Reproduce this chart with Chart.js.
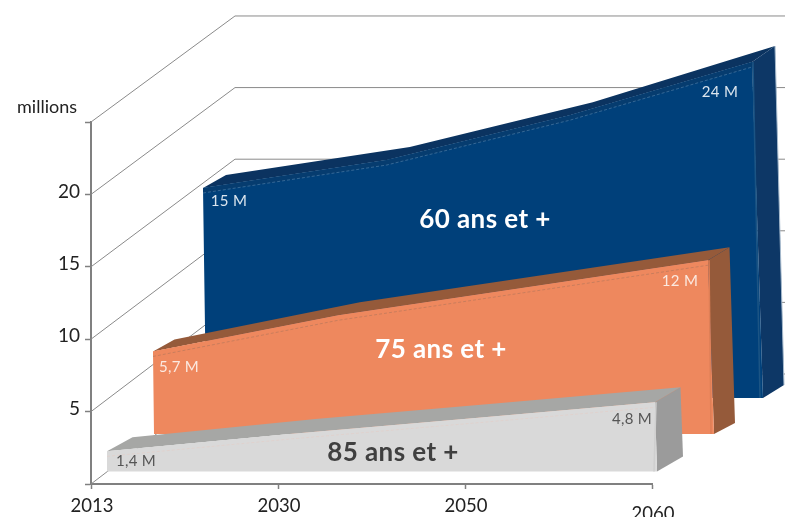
<!DOCTYPE html>
<html lang="fr">
<head>
<meta charset="utf-8">
<title>Projection de la population âgée</title>
<style>
  html, body { margin: 0; padding: 0; background: #fff; overflow: hidden; }
  canvas { display: block; }
</style>
<script src="https://cdn.jsdelivr.net/npm/chart.js@4"></script>
</head>
<body>
<canvas id="c" width="785" height="517"></canvas>
<script>
// Population figures, in millions
const years = ['2013', '2030', '2050', '2060'];
const ans60 = [15, 17, 20.2, 24];
const ans75 = [5.7, 8.2, 10.1, 12];
const ans85 = [1.4, 2.6, 3.7, 4.8];
const wallValues = [0, 5, 10, 15, 20, 25];

const FONT = 'Lato, "Open Sans", sans-serif';
const PX_X = 187;     // pixels per category on the horizontal scale
const PX_Y = 14.48;   // pixels per million on the vertical scale
const ux = px => px / PX_X;
const uy = px => px / PX_Y;

// Oblique slab geometry for each age group, in scale units
const slab60 = {
  left: ux(115), right: ux(672), base: uy(86), k: 14 / 14.48,
  leanL: ux(-0.2), leanR: ux(-0.458),
  backX: ux(23), backTop: [uy(13), uy(13), uy(13), uy(16)],
  footX: ux(21), footY: uy(13),
  front: '#00407a', band: '#063c6f', top: '#0b3360', side: '#0d3766',
  dash: '#4a7aa3', edge: '#1b5484', rim: '#a5b9cc'
};
const slab75 = {
  left: ux(63), right: ux(623), base: uy(50), k: 1,
  leanL: ux(-0.175), leanR: ux(-0.5),
  backX: ux(21.5), backTop: [uy(12), uy(13), uy(13), uy(13)],
  footX: ux(21), footY: uy(11),
  front: '#ee885e', band: '#ee885e', top: '#955a3a', side: '#955a3a',
  dash: '#b9795b', edge: '#de7f57', rim: null
};
const slab85 = {
  left: ux(16), right: ux(566), base: uy(12.5), k: 0.995,
  leanL: 0, leanR: ux(-0.42),
  backX: ux(25.5), backTop: [uy(14), uy(15), uy(15), uy(15)],
  footX: ux(26), footY: uy(15),
  front: '#d9d9d9', band: '#d9d9d9', top: '#a6a7a5', side: '#9b9b9b',
  dash: '#e2cfc8', edge: '#cfcfcf', rim: null
};

// Maps a category index and a value onto the front face of a slab
function onFace(g, i, value) {
  const t = i / 3;
  return {
    x: g.left + (g.right - g.left) * t + (g.leanL + (g.leanR - g.leanL) * t) * value,
    y: g.base + value * g.k
  };
}
const onBack = (g, i, value) => {
  const p = onFace(g, i, value);
  return { x: p.x + g.backX, y: p.y + g.backTop[i] };
};

function polygon(points, color) {
  return { data: points, isFace: true, faceColor: color, showLine: false, pointRadius: 0, clip: false };
}
function stroke(points, color, width, dash) {
  return {
    data: points, showLine: true, pointRadius: 0, clip: false,
    borderColor: color, borderWidth: width, borderDash: dash || [], tension: 0
  };
}

// All faces and edges of one slab, back to front
function slabParts(g, values) {
  const idx = [0, 1, 2, 3];
  const frontTop = idx.map(i => onFace(g, i, values[i]));
  const backTop = idx.map(i => onBack(g, i, values[i]));
  const footL = onFace(g, 0, 0);
  const footR = onFace(g, 3, 0);
  const footBack = { x: footR.x + g.footX, y: footR.y + g.footY };
  const inset = uy(5);
  const insetTop = idx.map(i => ({ x: frontTop[i].x, y: frontTop[i].y - inset }));
  const parts = [
    polygon([...frontTop, ...backTop.slice().reverse()], g.top),
    polygon([frontTop[3], backTop[3], footBack, footR], g.side),
    polygon([...frontTop, footR, footL], g.front),
    polygon([...frontTop, ...insetTop.slice().reverse()], g.band),
    stroke(insetTop, g.dash, 0.7, [3, 2]),
    stroke([{ x: frontTop[3].x + ux(1), y: frontTop[3].y }, { x: footR.x - ux(3), y: footR.y }], g.edge, 1.5)
  ];
  if (g.rim) parts.push(stroke([backTop[3], footBack], g.rim, 1));
  return parts;
}

// Receding lines of the side wall and the horizontal lines of the back wall
const WALL_X = ux(144);
const wallY = v => v * 0.989 + uy(110);
const wallLines = wallValues.map(v => stroke(
  [{ x: 0, y: v }, { x: WALL_X, y: wallY(v) }, { x: ux(694), y: wallY(v) }], '#8a8a8a', 1
));

const layers = [
  ...wallLines,
  ...slabParts(slab60, ans60),
  ...slabParts(slab75, ans75),
  ...slabParts(slab85, ans85)
];

// Captions, anchored in scale units
const at = (px, py) => ({ x: ux(px - 91), y: uy(484 - py) });
const groupFont = `700 26px ${FONT}`;
const valueFont = `400 15px ${FONT}`;
const captions = [
  { text: 'millions', ...at(47, 107), font: `400 18px ${FONT}`, color: '#222', spacing: '0px' },
  { text: '60 ans et +', ...at(485, 220), font: groupFont, color: '#fff', spacing: '0.4px' },
  { text: '75 ans et +', ...at(441, 350), font: groupFont, color: '#fff', spacing: '0.4px' },
  { text: '85 ans et +', ...at(393, 453), font: groupFont, color: '#404040', spacing: '0.4px' },
  { text: '15 M', ...at(229, 201), font: valueFont, color: '#dbe5ee', spacing: '0.3px' },
  { text: '24 M', ...at(720, 92), font: valueFont, color: '#dbe5ee', spacing: '0.3px' },
  { text: '5,7 M', ...at(179, 367), font: valueFont, color: '#fbe9e0', spacing: '0.3px' },
  { text: '12 M', ...at(680, 281), font: valueFont, color: '#fbe9e0', spacing: '0.3px' },
  { text: '1,4 M', ...at(136, 461), font: valueFont, color: '#555', spacing: '0.3px' },
  { text: '4,8 M', ...at(632, 419), font: valueFont, color: '#555', spacing: '0.3px' }
];

const facePlugin = {
  id: 'faces',
  beforeDatasetDraw(chart, args) {
    const ds = chart.data.datasets[args.index];
    if (!ds.isFace) return;
    const pts = args.meta.data;
    const ctx = chart.ctx;
    ctx.save();
    ctx.beginPath();
    pts.forEach((p, i) => (i ? ctx.lineTo(p.x, p.y) : ctx.moveTo(p.x, p.y)));
    ctx.closePath();
    ctx.fillStyle = ds.faceColor;
    ctx.fill();
    ctx.restore();
  }
};

const captionPlugin = {
  id: 'captions',
  afterDatasetsDraw(chart) {
    const { ctx, scales } = chart;
    ctx.save();
    ctx.textAlign = 'center';
    ctx.textBaseline = 'middle';
    captions.forEach(c => {
      ctx.font = c.font;
      ctx.letterSpacing = c.spacing;
      ctx.fillStyle = c.color;
      ctx.fillText(c.text, scales.x.getPixelForValue(c.x), scales.y.getPixelForValue(c.y));
    });
    ctx.restore();
  }
};

new Chart(document.getElementById('c'), {
  type: 'scatter',
  // the first dataset is painted last
  data: { datasets: layers.slice().reverse() },
  plugins: [facePlugin, captionPlugin],
  options: {
    responsive: false,
    animation: false,
    layout: { padding: { top: 122, right: 133, left: 0, bottom: 0 } },
    plugins: { legend: { display: false }, tooltip: { enabled: false }, title: { display: false } },
    scales: {
      x: {
        type: 'linear', min: 0, max: 3,
        afterFit(s) { s.height = 33; },
        border: { color: '#808080', width: 2 },
        grid: { drawOnChartArea: false, drawTicks: true, tickLength: 5, tickColor: '#808080', tickWidth: 1.5 },
        ticks: {
          stepSize: 1, autoSkip: false, maxRotation: 0, padding: 7, labelOffset: 1, color: '#222',
          font: ctx => ({ family: FONT, size: 18.5, lineHeight: ctx.index === 3 ? 2.0 : 1.13 }),
          callback: v => years[v]
        }
      },
      y: {
        type: 'linear', min: 0, max: 25,
        afterFit(s) { s.width = 91; },
        border: { color: '#808080', width: 2 },
        grid: { drawOnChartArea: false, drawTicks: true, tickLength: 6, tickColor: '#808080', tickWidth: 1.5 },
        ticks: {
          stepSize: 5, padding: 5, labelOffset: -3, color: '#222',
          font: { family: FONT, size: 19 },
          callback: v => (v === 0 || v === 25 ? '' : String(v))
        }
      }
    }
  }
});
</script>
</body>
</html>
